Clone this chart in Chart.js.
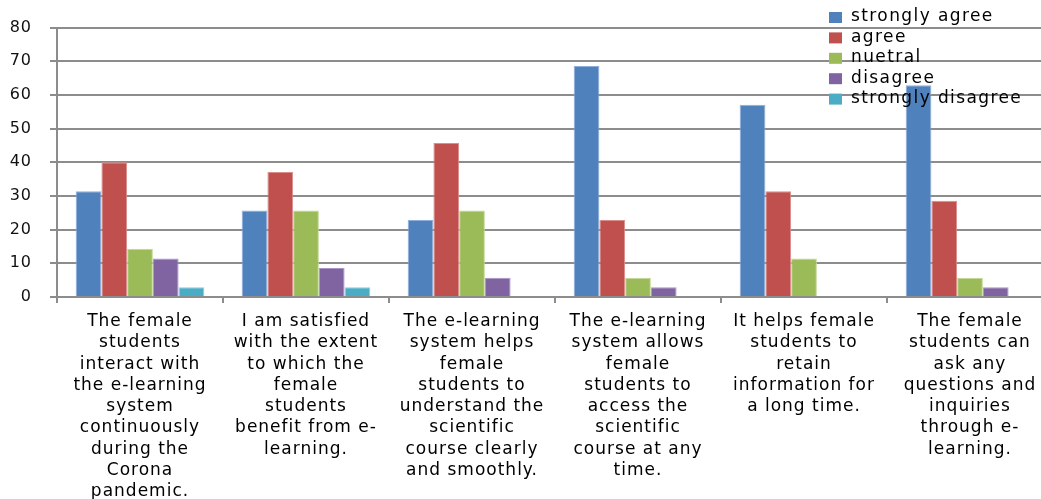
<!DOCTYPE html>
<html>
<head>
<meta charset="utf-8">
<script src="https://cdn.jsdelivr.net/npm/chart.js@4/dist/chart.umd.min.js"></script>
<style>
    html, body { margin: 0; padding: 0; background: #fff; overflow: hidden; }
    #wrap { width: 1060px; height: 499px; }
</style>
</head>
<body>
<div id="wrap"><canvas id="chart" width="1060" height="499"></canvas></div>
<script>
// survey statements (pre-wrapped like the original)
const categories = [
    ['The female', 'students', 'interact with', 'the e-learning', 'system', 'continuously', 'during the', 'Corona', 'pandemic.'],
    ['I am satisfied', 'with the extent', 'to which the', 'female', 'students', 'benefit from e-', 'learning.'],
    ['The e-learning', 'system helps', 'female', 'students to', 'understand the', 'scientific', 'course clearly', 'and smoothly.'],
    ['The e-learning', 'system allows', 'female', 'students to', 'access the', 'scientific', 'course at any', 'time.'],
    ['It helps female', 'students to', 'retain', 'information for', 'a long time.'],
    ['The female', 'students can', 'ask any', 'questions and', 'inquiries', 'through e-', 'learning.']
];

const seriesNames = ['strongly agree', 'agree', 'nuetral', 'disagree', 'strongly disagree'];
const seriesColors = ['#4F81BD', '#C0504D', '#9BBB59', '#8064A2', '#4BACC6'];
const seriesEdges = ['#8eaedb', '#dc8c8a', '#c2d895', '#a994c6', '#8dcde0'];

// percentages
const stronglyAgree = [31.4, 25.7, 22.9, 68.6, 57.1, 62.9];
const agree = [40.0, 37.1, 45.7, 22.9, 31.4, 28.6];
const neutral = [14.3, 25.7, 25.7, 5.7, 11.4, 5.7];
const disagree = [11.4, 8.6, 5.7, 2.9, 0, 2.9];
const stronglyDisagree = [2.9, 2.9, 0, 0, 0, 0];

const yTicks = [0, 10, 20, 30, 40, 50, 60, 70, 80];

const seriesValues = [stronglyAgree, agree, neutral, disagree, stronglyDisagree];
const gridColor = '#8c8c8c';

// the original's text is set wide, so space the letters out a little
const wideText = {
    id: 'wideText',
    beforeDraw(chart) {
        chart.ctx.letterSpacing = '1px';
    }
};

// legend drawn on top of the plot, like the original
const overlayLegend = {
    id: 'overlayLegend',
    afterDatasetsDraw(chart) {
        const ctx = chart.ctx;
        ctx.save();
        ctx.font = '17px "DejaVu Sans"';
        ctx.letterSpacing = '1.4px';
        ctx.textBaseline = 'middle';
        chart.data.datasets.forEach((ds, i) => {
            const y = 17 + i * 20.4;
            ctx.fillStyle = ds.backgroundColor;
            ctx.fillRect(829, y - 5, 13, 11);
            ctx.fillStyle = '#000';
            ctx.fillText(ds.label, 851, y);
        });
        ctx.restore();
    }
};

new Chart(document.getElementById('chart'), {
    type: 'bar',
    data: {
        labels: categories,
        datasets: seriesNames.map((name, i) => ({
            label: name,
            data: seriesValues[i],
            backgroundColor: seriesColors[i],
            borderColor: seriesEdges[i],
            borderWidth: 1,
            categoryPercentage: 0.775,
            barPercentage: 1.0
        }))
    },
    options: {
        responsive: false,
        animation: false,
        layout: { padding: { top: 25, right: 7, left: 0, bottom: 0 } },
        plugins: {
            legend: { display: false },
            tooltip: { enabled: false }
        },
        scales: {
            x: {
                grid: {
                    offset: true,
                    drawOnChartArea: false,
                    drawTicks: true,
                    tickLength: 6,
                    color: gridColor,
                    lineWidth: 2
                },
                border: { color: gridColor, width: 2 },
                ticks: {
                    autoSkip: false,
                    maxRotation: 0,
                    minRotation: 0,
                    padding: 8,
                    color: '#000',
                    font: { family: 'DejaVu Sans', size: 17, lineHeight: 1.25 }
                },
                afterFit(scale) { scale.height = 202; }
            },
            y: {
                min: 0,
                max: 80,
                afterBuildTicks(scale) { scale.ticks = yTicks.map(v => ({ value: v })); },
                grid: {
                    color: gridColor,
                    lineWidth: 2,
                    tickLength: 7
                },
                border: { color: gridColor, width: 2 },
                ticks: {
                    padding: 18,
                    color: '#111',
                    font: { family: 'DejaVu Sans', size: 16 }
                },
                afterFit(scale) { scale.width = 57; }
            }
        }
    },
    plugins: [wideText, overlayLegend]
});
</script>
</body>
</html>
